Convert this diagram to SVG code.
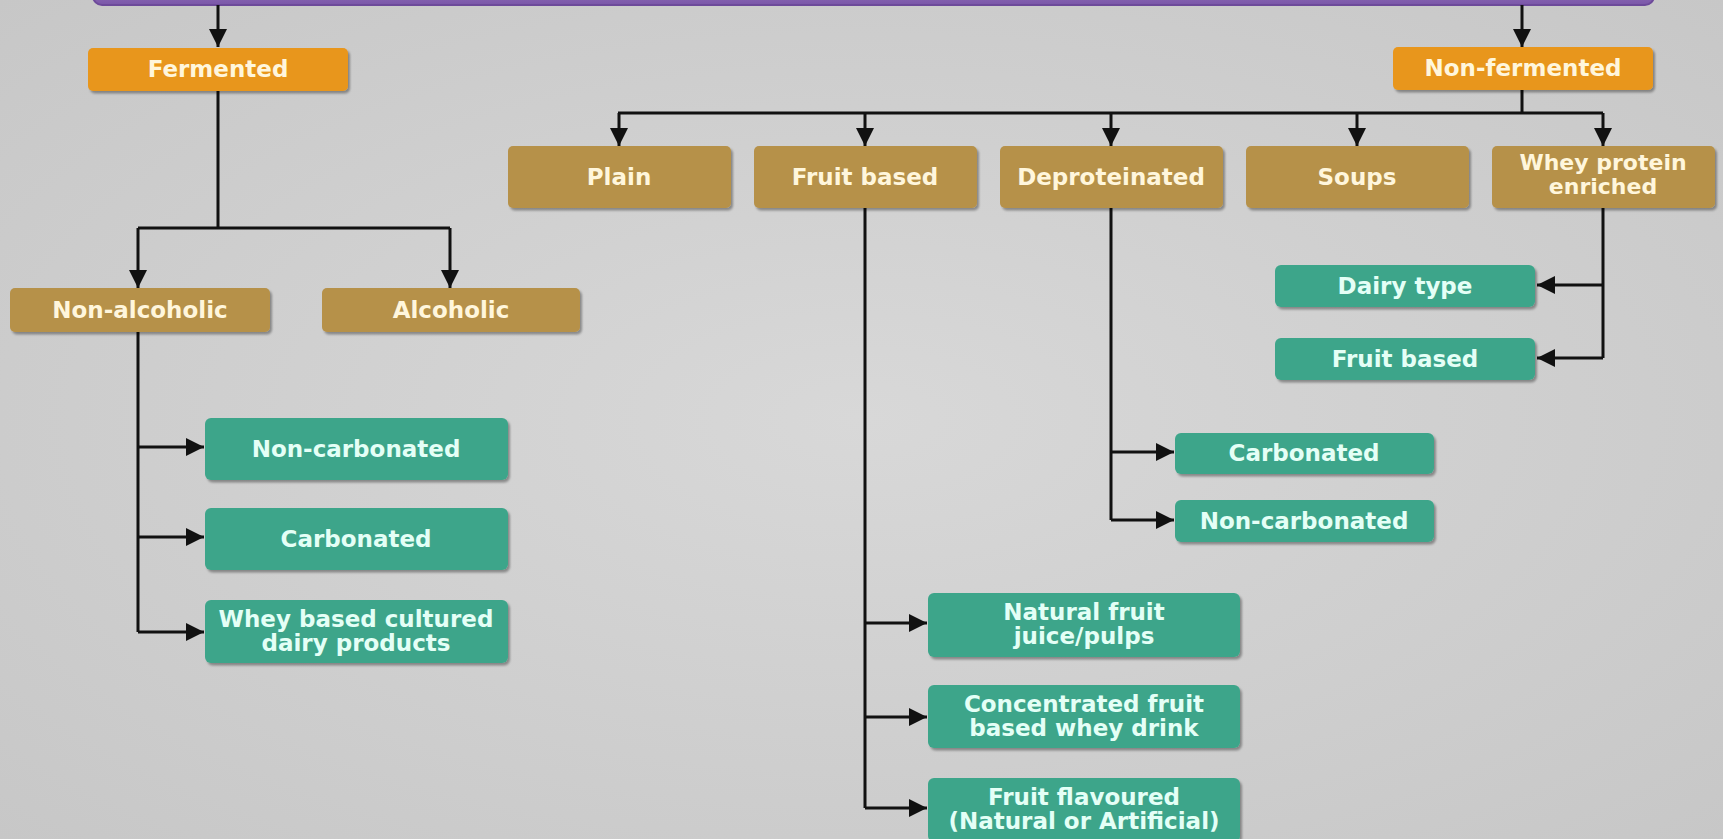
<svg xmlns="http://www.w3.org/2000/svg" width="1723" height="839" viewBox="0 0 1723 839">
<defs>
<radialGradient id="bg" cx="0.5" cy="0.5" r="0.75">
<stop offset="0" stop-color="#D8D8D8"/>
<stop offset="1" stop-color="#C6C6C6"/>
</radialGradient>
<linearGradient id="pur" x1="0" y1="0" x2="0" y2="1">
<stop offset="0" stop-color="#B9A2D6"/>
<stop offset="1" stop-color="#7A56A8"/>
</linearGradient>
<filter id="sh" x="-5%" y="-10%" width="110%" height="130%">
<feDropShadow dx="2" dy="2.5" stdDeviation="1.2" flood-color="#000" flood-opacity="0.35"/>
</filter>
<marker id="ah" viewBox="0 0 10 10" refX="10" refY="5" markerWidth="6" markerHeight="6" orient="auto" markerUnits="strokeWidth">
<path d="M0,0 L10,5 L0,10 z" fill="#111"/>
</marker>
<style>
.box{filter:url(#sh)}
.or{fill:#E8961C}
.tan{fill:#B69149}
.gr{fill:#3CA58A}
text{font-family:"DejaVu Sans","Verdana",sans-serif;font-weight:bold;font-size:23px;text-anchor:middle}
.sm{font-size:22px}
.tt{fill:#FFF6DC}
.tg{fill:#E4FFF6}
.ln{fill:none;stroke:#111;stroke-width:3}
.ar{fill:none;stroke:#111;stroke-width:3;marker-end:url(#ah)}
</style>
</defs>
<rect x="0" y="0" width="1723" height="839" fill="url(#bg)"/>
<rect x="93" y="-40" width="1561" height="45" rx="9" fill="url(#pur)" stroke="#6D4A9A" stroke-width="2"/>

<g id="connectors">
<path class="ar" d="M218,5 V47"/>
<path class="ar" d="M1522,5 V47"/>
<path class="ln" d="M218,91 V228 M138,228 H450"/>
<path class="ar" d="M138,228 V288"/>
<path class="ar" d="M450,228 V288"/>
<path class="ln" d="M138,332 V632"/>
<path class="ar" d="M138,447 H204"/>
<path class="ar" d="M138,537 H204"/>
<path class="ar" d="M138,632 H204"/>
<path class="ln" d="M1522,90 V113 M618,113 H1603"/>
<path class="ar" d="M619,113 V146"/>
<path class="ar" d="M865,113 V146"/>
<path class="ar" d="M1111,113 V146"/>
<path class="ar" d="M1357,113 V146"/>
<path class="ar" d="M1603,113 V146"/>
<path class="ln" d="M865,208 V808"/>
<path class="ar" d="M865,623 H927"/>
<path class="ar" d="M865,717 H927"/>
<path class="ar" d="M865,808 H927"/>
<path class="ln" d="M1111,208 V520"/>
<path class="ar" d="M1111,452 H1174"/>
<path class="ar" d="M1111,520 H1174"/>
<path class="ln" d="M1603,207 V358"/>
<path class="ar" d="M1603,285 H1537"/>
<path class="ar" d="M1603,358 H1537"/>
</g>

<g id="fermented"><rect class="box or" x="88" y="48" width="260" height="43" rx="5"/><text class="tt" x="218" y="77">Fermented</text></g>
<g id="non-fermented"><rect class="box or" x="1393" y="47" width="260" height="43" rx="5"/><text class="tt" x="1523" y="76">Non-fermented</text></g>

<g id="non-alcoholic"><rect class="box tan" x="10" y="288" width="260" height="44" rx="5"/><text class="tt" x="140" y="318">Non-alcoholic</text></g>
<g id="alcoholic"><rect class="box tan" x="322" y="288" width="258" height="44" rx="5"/><text class="tt" x="451" y="318">Alcoholic</text></g>

<g id="plain"><rect class="box tan" x="508" y="146" width="223" height="62" rx="5"/><text class="tt" x="619" y="185">Plain</text></g>
<g id="fruit-based"><rect class="box tan" x="754" y="146" width="223" height="62" rx="5"/><text class="tt" x="865" y="185">Fruit based</text></g>
<g id="deproteinated"><rect class="box tan" x="1000" y="146" width="223" height="62" rx="5"/><text class="tt" x="1111" y="185">Deproteinated</text></g>
<g id="soups"><rect class="box tan" x="1246" y="146" width="223" height="62" rx="5"/><text class="tt" x="1357" y="185">Soups</text></g>
<g id="whey-protein"><rect class="box tan" x="1492" y="146" width="223" height="62" rx="5"/><text class="tt sm" x="1603" y="170">Whey protein</text><text class="tt sm" x="1603" y="194">enriched</text></g>

<g id="l-non-carbonated"><rect class="box gr" x="205" y="418" width="303" height="62" rx="6"/><text class="tg" x="356" y="457">Non-carbonated</text></g>
<g id="l-carbonated"><rect class="box gr" x="205" y="508" width="303" height="62" rx="6"/><text class="tg" x="356" y="547">Carbonated</text></g>
<g id="l-whey-cultured"><rect class="box gr" x="205" y="600" width="303" height="63" rx="6"/><text class="tg" x="356" y="627">Whey based cultured</text><text class="tg" x="356" y="651">dairy products</text></g>

<g id="dairy-type"><rect class="box gr" x="1275" y="265" width="260" height="42" rx="6"/><text class="tg" x="1405" y="294">Dairy type</text></g>
<g id="w-fruit-based"><rect class="box gr" x="1275" y="338" width="260" height="42" rx="6"/><text class="tg" x="1405" y="367">Fruit based</text></g>

<g id="d-carbonated"><rect class="box gr" x="1175" y="433" width="259" height="41" rx="6"/><text class="tg" x="1304" y="461">Carbonated</text></g>
<g id="d-non-carbonated"><rect class="box gr" x="1175" y="500" width="259" height="42" rx="6"/><text class="tg" x="1304" y="529">Non-carbonated</text></g>

<g id="natural-fruit"><rect class="box gr" x="928" y="593" width="312" height="64" rx="6"/><text class="tg" x="1084" y="620">Natural fruit</text><text class="tg" x="1084" y="644">juice/pulps</text></g>
<g id="concentrated"><rect class="box gr" x="928" y="685" width="312" height="63" rx="6"/><text class="tg" x="1084" y="712">Concentrated fruit</text><text class="tg" x="1084" y="736">based whey drink</text></g>
<g id="fruit-flavoured"><rect class="box gr" x="928" y="778" width="312" height="64" rx="6"/><text class="tg" x="1084" y="805">Fruit flavoured</text><text class="tg" x="1084" y="829">(Natural or Artificial)</text></g>
</svg>
